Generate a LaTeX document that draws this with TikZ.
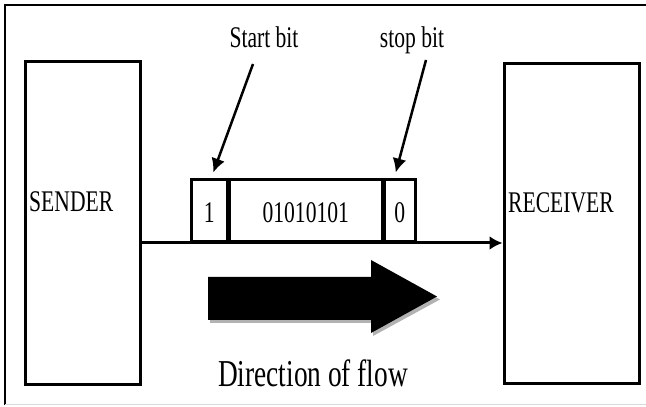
\documentclass[tikz,border=0pt]{standalone}
\usepackage{fontspec}
\setmainfont[FakeStretch=0.72]{Liberation Serif}
\usepackage{tikz}
\usetikzlibrary{arrows.meta,positioning,calc}

\begin{document}
\begin{tikzpicture}[x=1pt, y=1pt, >={Latex[length=13pt,width=14pt]}]
    % Styles
    \tikzstyle{station} = [rectangle, draw, line width=3pt, inner sep=0pt]
    \tikzstyle{cell} = [rectangle, draw, line width=2.5pt, minimum height=62pt, inner sep=0pt]
    \tikzstyle{lbl} = [inner sep=0pt, anchor=base, font=\fontsize{30}{33}\selectfont]
    \tikzstyle{line} = [draw, ->, line width=3pt]
    \tikzstyle{pointer} = [draw, ->, line width=2.5pt, >={Latex[length=14pt,width=14pt]}]

    \useasboundingbox (0,0) rectangle (646,407);
    % frame round the figure
    \draw[line width=1.5pt] (646,402) -- (5,402) -- (5,2);
    \draw[line width=1pt, black!15] (5,2) -- (646,2);

    % Nodes
    \node [station, minimum width=115pt, minimum height=323pt] (sender) at (82.5,183.5) {};
    \node [station, minimum width=135pt, minimum height=320pt] (receiver) at (571.5,183) {};
    \node [lbl, anchor=base west] (sendtxt) at (29,195) {SENDER};
    \node [lbl, anchor=base west] (recvtxt) at (508,194) {RECEIVER};

    \coordinate (busstart) at (sender.east |- 0,164);
    \node [cell, minimum width=36pt, anchor=south west] (bitone) at (190,164) {};
    \node [cell, minimum width=152pt, right=0pt of bitone] (data) {};
    \node [cell, minimum width=31pt, right=0pt of data] (bitstop) {};
    \node [lbl] at (bitone.center |- 0,184) {1};
    \node [lbl] at (data.center |- 0,184) {01010101};
    \node [lbl] at (bitstop.center |- 0,184) {0};

    \node [lbl] (startlbl) at (264,359) {Start bit};
    \node [lbl] (stoplbl) at (412,359) {stop bit};
    \node [lbl, font=\fontsize{38}{41}\selectfont] (flowtxt) at (313,20) {Direction of flow};

    % big arrow
    \fill[black!30] (210,84) -- (373,84) -- (373,71) -- (440,107.5) -- (373,144) -- (373,127) -- (210,127) -- cycle;
    \fill[black] (208,87) -- (371,87) -- (371,74) -- (437,110.5) -- (371,147) -- (371,130) -- (208,130) -- cycle;

    % Paths
    \path [line] (busstart) -- (receiver.west |- busstart);
    \path [pointer] ([xshift=-11pt,yshift=-16pt]startlbl.base) -- ([xshift=4pt,yshift=6pt]bitone.north);
    \path [pointer] ([xshift=14pt,yshift=-12pt]stoplbl.base) -- ([xshift=-4pt,yshift=6pt]bitstop.north);
\end{tikzpicture}
\end{document}
